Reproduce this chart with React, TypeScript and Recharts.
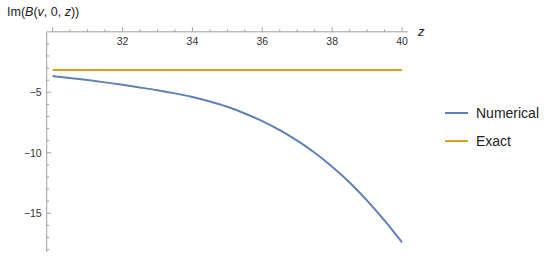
import { LineChart, Line, XAxis, YAxis, Legend } from 'recharts';

const zValues = [30, 30.5, 31, 31.5, 32, 32.5, 33, 33.5, 34, 34.5, 35, 35.5, 36, 36.5, 37, 37.5, 38, 38.5, 39, 39.5, 40];
const numerical = [-3.66, -3.82, -3.99, -4.18, -4.38, -4.6, -4.83, -5.09, -5.39, -5.76, -6.2, -6.75, -7.38, -8.13, -9.0, -10.0, -11.15, -12.45, -13.95, -15.6, -17.4];
const exact = [-3.16, -3.16, -3.16, -3.16, -3.16, -3.16, -3.16, -3.16, -3.16, -3.16, -3.16, -3.16, -3.16, -3.16, -3.16, -3.16, -3.16, -3.16, -3.16, -3.16, -3.16];
const seriesNames = ['Numerical', 'Exact'];

const xTicks = [30, 30.5, 31, 31.5, 32, 32.5, 33, 33.5, 34, 34.5, 35, 35.5, 36, 36.5, 37, 37.5, 38, 38.5, 39, 39.5, 40];
const xTickLabels = [32, 34, 36, 38, 40];
const yTicks = [-18, -17, -16, -15, -14, -13, -12, -11, -10, -9, -8, -7, -6, -5, -4, -3, -2, -1];
const yTickLabels = [-5, -10, -15];

const data = zValues.map((z, i) => ({ z, numerical: numerical[i], exact: exact[i] }));

const axisColor = '#a0a0a0';
const font = '"Liberation Sans", Arial, sans-serif';

function XTick(props: any) {
  const { x, y, payload } = props;
  const v = payload.value;
  const major = v % 2 === 0;
  return (
    <g>
      <line x1={x} x2={x} y1={y} y2={y - (major ? 4.5 : 2.5)} stroke={axisColor} />
      {xTickLabels.includes(v) && (
        <text x={x} y={y + 13.5} textAnchor="middle" fontSize={10.5} fill="#333" fontFamily={font}>
          {v}
        </text>
      )}
    </g>
  );
}

function YTick(props: any) {
  const { x, y, payload } = props;
  const v = payload.value;
  const major = v % 5 === 0;
  return (
    <g>
      <line x1={x} x2={x + (major ? 4.5 : 2.5)} y1={y} y2={y} stroke={axisColor} />
      {yTickLabels.includes(v) && (
        <text x={x - 5} y={y + 3.8} textAnchor="end" fontSize={10.5} fill="#333" fontFamily={font}>
          {'\u2212' + Math.abs(v)}
        </text>
      )}
    </g>
  );
}

function renderLegend(props: any) {
  const items = [...(props.payload || [])].sort(
    (a: any, b: any) => seriesNames.indexOf(a.value) - seriesNames.indexOf(b.value)
  );
  return (
    <div>
      {items.map((entry: any) => (
        <div key={entry.value} style={{ display: 'flex', alignItems: 'center', height: 28 }}>
          <svg width={23} height={4} style={{ display: 'block' }}>
            <line x1={0} x2={23} y1={2} y2={2} stroke={entry.color} strokeWidth={2} />
          </svg>
          <span style={{ marginLeft: 8, fontSize: 14, color: '#222', fontFamily: font }}>{entry.value}</span>
        </div>
      ))}
    </div>
  );
}

export default function App() {
  return (
    <div style={{ position: 'absolute', left: 0, top: 0, width: 550, height: 261, background: '#fff' }}>
      <LineChart width={550} height={261} data={data} margin={{ top: 11.8, right: 142, bottom: 9, left: 6.7 }}>
        <XAxis
          dataKey="z"
          type="number"
          orientation="top"
          height={20}
          domain={[29.83, 40.17]}
          allowDataOverflow
          ticks={xTicks}
          interval={0}
          tickSize={0}
          tickMargin={0}
          tickLine={false}
          axisLine={{ stroke: axisColor }}
          tick={<XTick />}
          label={{
            content: (p: any) => {
              const vb = p.viewBox;
              return (
                <text x={vb.x + vb.width + 10} y={vb.y + vb.height + 4.5} fontSize={13} fontStyle="italic" fill="#222" fontFamily={font}>
                  z
                </text>
              );
            },
          }}
        />
        <YAxis
          type="number"
          width={40}
          domain={[-18.2, 0]}
          allowDataOverflow
          ticks={yTicks}
          interval={0}
          tickSize={0}
          tickMargin={0}
          tickLine={false}
          axisLine={{ stroke: axisColor }}
          tick={<YTick />}
          label={{
            content: (p: any) => {
              const vb = p.viewBox;
              return (
                <text x={7} y={vb.y - 15.5} fontSize={12.5} fill="#222" fontFamily={font}>
                  Im(<tspan fontStyle="italic">B</tspan>(<tspan fontStyle="italic">v</tspan>, 0, <tspan fontStyle="italic">z</tspan>))
                </text>
              );
            },
          }}
        />
        <Legend
          layout="vertical"
          align="center"
          verticalAlign="middle"
          wrapperStyle={{ left: 445, top: 98.7, width: 105 }}
          content={renderLegend}
        />
        <Line name="Numerical" dataKey="numerical" stroke="#5E81B5" strokeWidth={2} dot={false} type="monotone" isAnimationActive={false} />
        <Line name="Exact" dataKey="exact" stroke="#E19C24" strokeWidth={2} dot={false} type="linear" isAnimationActive={false} />
      </LineChart>
    </div>
  );
}
